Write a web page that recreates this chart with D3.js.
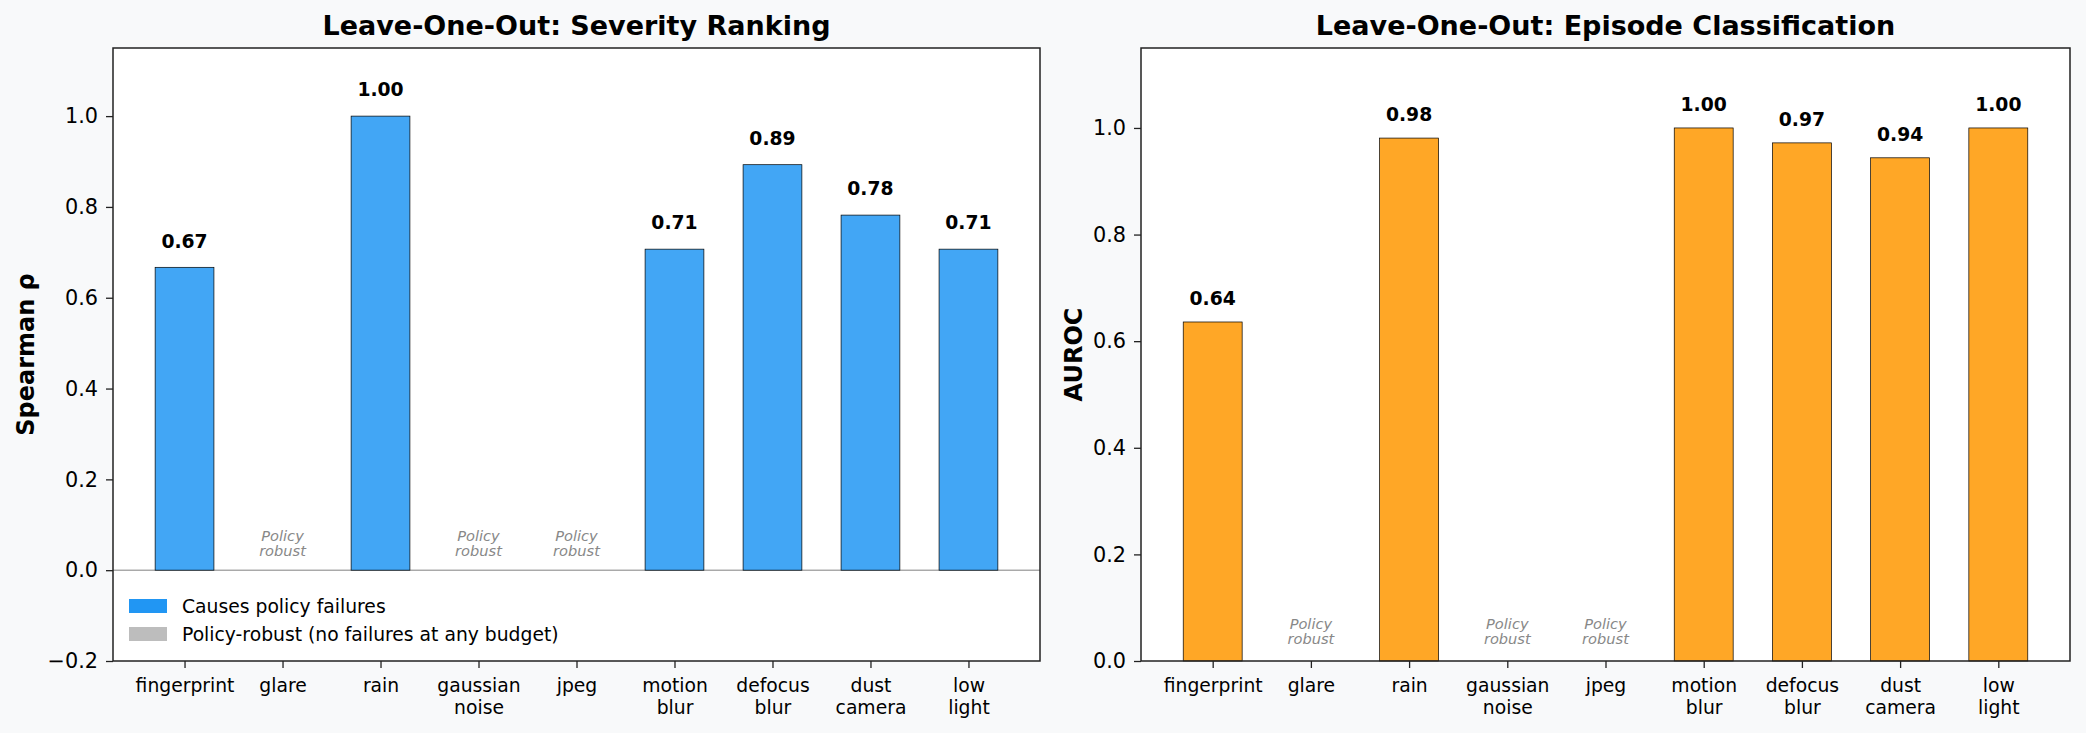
<!DOCTYPE html>
<html>
<head>
<meta charset="utf-8">
<script src="https://cdn.jsdelivr.net/npm/d3@7"></script>
<style>
  body { margin: 0; background: #f8f9fa; }
  text { font-family: "DejaVu Sans", sans-serif; }
</style>
</head>
<body>
<svg id="chart"></svg>
<script>
// data
var categories = ["fingerprint", "glare", "rain", "gaussian\nnoise", "jpeg",
                  "motion\nblur", "defocus\nblur", "dust\ncamera", "low\nlight"];
var spearmanValues = [0.667, null, 1.0, null, null, 0.707, 0.893, 0.782, 0.707];
var aurocValues = [0.636, null, 0.981, null, null, 1.0, 0.972, 0.944, 1.0];
var spearmanTicks = [-0.2, 0.0, 0.2, 0.4, 0.6, 0.8, 1.0];
var aurocTicks = [0.0, 0.2, 0.4, 0.6, 0.8, 1.0];
var legendLabels = ["Causes policy failures", "Policy-robust (no failures at any budget)"];
var robustLabel = ["Policy", "robust"];

var width = 2086, height = 733;

var svg = d3.select("#chart")
    .attr("width", width)
    .attr("height", height);

svg.append("rect")
    .attr("width", width)
    .attr("height", height)
    .attr("fill", "#f8f9fa");

function drawPanel(opt) {
    var x = d3.scaleLinear()
        .domain([-0.73, categories.length - 1 + 0.73])
        .range([opt.left, opt.right]);
    var y = d3.scaleLinear()
        .domain(opt.ylim)
        .range([opt.bottom, opt.top]);
    var bw = x(0.6) - x(0);

    var g = svg.append("g");

    // axes background
    g.append("rect")
        .attr("x", opt.left)
        .attr("y", opt.top)
        .attr("width", opt.right - opt.left)
        .attr("height", opt.bottom - opt.top)
        .attr("fill", "#ffffff");

    if (opt.zeroLine) {
        g.append("line")
            .attr("x1", opt.left).attr("x2", opt.right)
            .attr("y1", y(0)).attr("y2", y(0))
            .attr("stroke", "#808080")
            .attr("stroke-width", 1);
    }

    // bars
    var rows = opt.values.map(function (v, i) { return {i: i, v: v}; });
    var withValue = rows.filter(function (d) { return d.v !== null; });
    var robust = rows.filter(function (d) { return d.v === null; });

    g.selectAll("rect.bar")
        .data(withValue)
        .enter()
        .append("rect")
        .attr("class", "bar")
        .attr("x", function (d) { return x(d.i) - bw / 2; })
        .attr("y", function (d) { return y(d.v); })
        .attr("width", bw)
        .attr("height", function (d) { return y(0) - y(d.v); })
        .attr("fill", opt.color)
        .attr("fill-opacity", 0.85)
        .attr("stroke", "#000")
        .attr("stroke-width", 0.7);

    // value labels
    g.selectAll("text.val")
        .data(withValue)
        .enter()
        .append("text")
        .attr("class", "val")
        .attr("x", function (d) { return x(d.i); })
        .attr("y", function (d) { return y(d.v) - opt.labelGap; })
        .attr("text-anchor", "middle")
        .attr("font-size", "18.75px")
        .attr("font-weight", "bold")
        .attr("fill", "#000")
        .text(function (d) { return d.v.toFixed(2); });

    // policy robust notes
    var notes = g.selectAll("text.note")
        .data(robust)
        .enter()
        .append("text")
        .attr("class", "note")
        .attr("x", function (d) { return x(d.i); })
        .attr("y", function (d) { return y(0.031) - 15.5; })
        .attr("text-anchor", "middle")
        .attr("font-size", "14.6px")
        .attr("font-style", "italic")
        .attr("fill", "#888888");
    notes.selectAll("tspan")
        .data(function (d) { return robustLabel.map(function (t) { return {d: d, t: t}; }); })
        .enter()
        .append("tspan")
        .attr("x", function (e) { return x(e.d.i); })
        .attr("dy", function (e, k) { return k === 0 ? 0 : 15.5; })
        .text(function (e) { return e.t; });

    // y axis
    var yAxis = g.append("g")
        .attr("transform", "translate(" + opt.left + ",0)")
        .call(d3.axisLeft(y).tickValues(opt.ticks).tickFormat(d3.format(".1f"))
            .tickSize(7).tickPadding(8));
    yAxis.select(".domain").remove();
    yAxis.selectAll("line").attr("stroke", "#222").attr("stroke-width", 1.3);
    yAxis.selectAll("text").attr("font-size", "20.8px").attr("fill", "#000")
        .attr("font-family", "DejaVu Sans");

    // x axis
    var xAxis = g.append("g")
        .attr("transform", "translate(0," + opt.bottom + ")")
        .call(d3.axisBottom(x).tickValues(d3.range(categories.length))
            .tickFormat(function (i) { return ""; })
            .tickSize(7).tickPadding(7));
    xAxis.select(".domain").remove();
    xAxis.selectAll("line").attr("stroke", "#222").attr("stroke-width", 1.3);
    xAxis.selectAll(".tick text")
        .attr("font-size", "18.75px")
        .attr("fill", "#000")
        .attr("font-family", "DejaVu Sans")
        .each(function (i) {
            var t = d3.select(this);
            categories[i].split("\n").forEach(function (line, k) {
                t.append("tspan")
                    .attr("x", 0)
                    .attr("dy", k === 0 ? "0.9em" : 22.5)
                    .text(line);
            });
        });

    // frame
    g.append("rect")
        .attr("x", opt.left)
        .attr("y", opt.top)
        .attr("width", opt.right - opt.left)
        .attr("height", opt.bottom - opt.top)
        .attr("fill", "none")
        .attr("stroke", "#222")
        .attr("stroke-width", 1.5);

    // title
    g.append("text")
        .attr("x", (opt.left + opt.right) / 2)
        .attr("y", opt.top - 13)
        .attr("text-anchor", "middle")
        .attr("font-size", "27px")
        .attr("font-weight", "bold")
        .attr("fill", "#000")
        .text(opt.title);

    // y label
    g.append("text")
        .attr("transform", "translate(" + opt.ylabelX + "," + ((opt.top + opt.bottom) / 2) + ") rotate(-90)")
        .attr("text-anchor", "middle")
        .attr("font-size", "24px")
        .attr("font-weight", "bold")
        .attr("fill", "#000")
        .text(opt.ylabel);

    return {x: x, y: y, g: g};
}

var left = drawPanel({
    left: 113, right: 1040, top: 48, bottom: 661,
    ylim: [-0.2, 1.15], ticks: spearmanTicks,
    values: spearmanValues, color: "#2196F3", labelGap: 19.7,
    title: "Leave-One-Out: Severity Ranking",
    ylabel: "Spearman \u03c1", ylabelX: 34, zeroLine: true
});

drawPanel({
    left: 1141, right: 2070, top: 48, bottom: 661,
    ylim: [0, 1.15], ticks: aurocTicks,
    values: aurocValues, color: "#FF9800", labelGap: 16.7,
    title: "Leave-One-Out: Episode Classification",
    ylabel: "AUROC", ylabelX: 1082, zeroLine: false
});

// legend in the left panel
var legendColors = ["#2196F3", "#BDBDBD"];
var legend = left.g.append("g")
    .attr("transform", "translate(129,599)");
legend.selectAll("rect")
    .data(legendLabels)
    .enter()
    .append("rect")
    .attr("x", 0)
    .attr("y", function (d, i) { return i * 28; })
    .attr("width", 38)
    .attr("height", 14)
    .attr("fill", function (d, i) { return legendColors[i]; });
legend.selectAll("text")
    .data(legendLabels)
    .enter()
    .append("text")
    .attr("x", 53)
    .attr("y", function (d, i) { return i * 28 + 7; })
    .attr("dy", "0.35em")
    .attr("font-size", "18.75px")
    .attr("fill", "#000")
    .text(function (d) { return d; });
</script>
</body>
</html>
